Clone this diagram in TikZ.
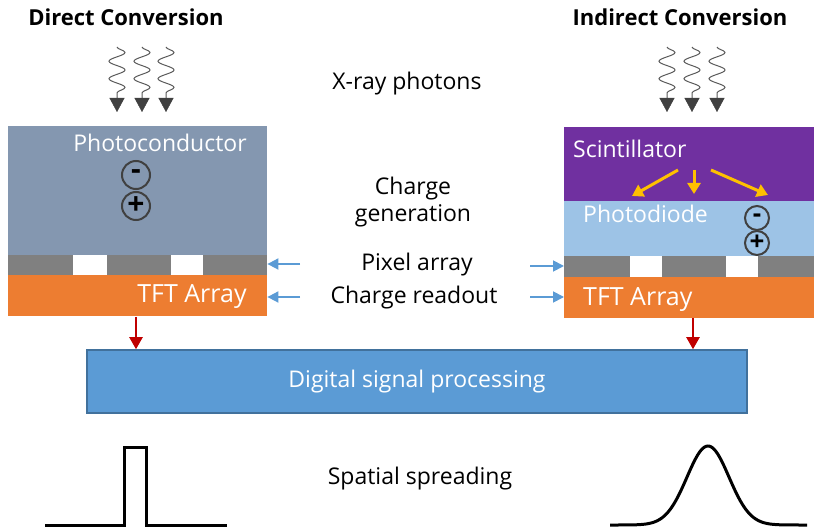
\documentclass[tikz,border=0pt]{standalone}
\usepackage{fontspec}
\setmainfont{Open Sans}
\usetikzlibrary{arrows.meta,decorations.pathmorphing}
\definecolor{pcgray}{HTML}{8497B0}
\definecolor{stripgray}{HTML}{808080}
\definecolor{tftorange}{HTML}{ED7D31}
\definecolor{scintpurple}{HTML}{7030A0}
\definecolor{diodeblue}{HTML}{9DC3E6}
\definecolor{dspblue}{HTML}{5B9BD5}
\definecolor{dspedge}{HTML}{41719C}
\definecolor{readblue}{HTML}{5B9BD5}
\definecolor{outred}{HTML}{C00000}
\definecolor{lightyellow}{HTML}{FFC000}
\definecolor{wavegray}{HTML}{595959}
\definecolor{headgray}{HTML}{404040}
\tikzset{
  layer/.style={draw=none, inner sep=0pt, anchor=north west},
  lbl/.style={inner sep=0pt, anchor=base, font=\fontsize{23}{28}\selectfont},
  title/.style={inner sep=0pt, anchor=base, font=\fontsize{22}{26}\selectfont\bfseries},
  charge/.style={circle, draw=headgray, line width=2pt, inner sep=0pt, font=\fontsize{30}{30}\selectfont\bfseries},
  photon/.style={draw=wavegray, line width=1pt, decorate,
    decoration={snake, amplitude=8pt, segment length=17.5pt, post length=1pt}},
  photonhead/.style={draw=headgray, fill=headgray, -{Triangle[length=14pt,width=15pt]}},
  readout/.style={draw=readblue, line width=1.8pt, -{Triangle[length=11pt,width=11pt]}},
  output/.style={draw=outred, line width=2.2pt, -{Triangle[length=12pt,width=13pt]}},
  light/.style={draw=lightyellow, line width=3pt, -{Triangle[length=11pt,width=13pt]}},
  profile/.style={line width=3pt, line join=miter}
}
\begin{document}
\begin{tikzpicture}[x=1pt, y=-1pt]
    \useasboundingbox (0,0) rectangle (814,529);
    % Titles
    \node[title] (dirT) at (126,26) {Direct Conversion};
    \node[title] (indT) at (680,26) {Indirect Conversion};
    % X-ray photons
    \foreach \n/\x in {1/117,2/142,3/166,4/667,5/692,6/717} {
        \coordinate (ph\n top) at (\x,47);
        \coordinate (ph\n mid) at (\x,98);
        \coordinate (ph\n tip) at (\x,112);
        \draw[photon] (ph\n top) -- (ph\n mid);
        \draw[photonhead] (ph\n mid) -- (ph\n tip);
    }
    \node[lbl] (xrayT) at (407,90) {X-ray photons};
    % Direct conversion stack
    \node[layer, fill=pcgray, minimum width=259pt, minimum height=129pt] (pcL) at (8,126) {};
    \node[layer, fill=stripgray, minimum width=259pt, minimum height=20pt] (pixL) at (8,255) {};
    \node[layer, fill=tftorange, minimum width=259pt, minimum height=41pt] (tftL) at (8,275) {};
    \fill[white] (73,255) rectangle (107,275);
    \fill[white] (171,255) rectangle (203,275);
    \node[lbl, text=white] (pcT) at (160,152) {Photoconductor};
    \node[lbl, text=white, font=\fontsize{25}{30}\selectfont] (tftLT) at (192,303) {TFT Array};
    \node[charge, minimum size=28pt] (eL) at (136,175) {-};
    \node[charge, minimum size=28pt] (hL) at (136,206) {+};
    % Indirect conversion stack
    \node[layer, fill=scintpurple, minimum width=250pt, minimum height=74pt] (scR) at (564,127) {};
    \node[layer, fill=diodeblue, minimum width=250pt, minimum height=55pt] (pdR) at (564,201) {};
    \node[layer, fill=stripgray, minimum width=250pt, minimum height=21pt] (pixR) at (564,256) {};
    \node[layer, fill=tftorange, minimum width=250pt, minimum height=41pt] (tftR) at (564,277) {};
    \fill[white] (630,256) rectangle (662,277);
    \fill[white] (726,256) rectangle (758,277);
    \node[lbl, text=white, anchor=base west] (scT) at (573,158) {Scintillator};
    \node[lbl, text=white, anchor=base west] (pdT) at (583,223) {Photodiode};
    \node[lbl, text=white, anchor=base west, font=\fontsize{25}{30}\selectfont] (tftRT) at (583,306) {TFT Array};
    \node[charge, minimum size=24pt, font=\fontsize{26}{26}\selectfont\bfseries] (eR) at (757,218) {-};
    \node[charge, minimum size=24pt, font=\fontsize{26}{26}\selectfont\bfseries] (hR) at (757,243) {+};
    % Scintillation light
    \coordinate (ly1s) at (678,170); \coordinate (ly1e) at (632,196);
    \coordinate (ly2s) at (694,170); \coordinate (ly2e) at (694,194);
    \coordinate (ly3s) at (711,170); \coordinate (ly3e) at (768,195);
    \foreach \i in {1,2,3} {\draw[light] (ly\i s) -- (ly\i e);}
    % Middle labels
    \node[lbl] (genT1) at (413,195) {Charge};
    \node[lbl] (genT2) at (413,222) {generation};
    \node[lbl] (pixT) at (417,271) {Pixel array};
    \node[lbl] (readT) at (414,304) {Charge readout};
    \coordinate (pixLs) at (300,264); \coordinate (readLs) at (300,297);
    \coordinate (pixRs) at (530,266); \coordinate (readRs) at (530,297);
    \draw[readout] (pixLs) -- (pixLs -| pixL.east);
    \draw[readout] (readLs) -- (readLs -| tftL.east);
    \draw[readout] (pixRs) -- (pixRs -| pixR.west);
    \draw[readout] (readRs) -- (readRs -| tftR.west);
    % Digital signal processing
    \node[draw=dspedge, line width=1.5pt, fill=dspblue, text=white, minimum width=660pt,
          minimum height=63pt, font=\fontsize{23}{28}\selectfont] (dsp) at (417,381.5) {Digital signal processing};
    \coordinate (outL) at (136,317); \coordinate (outR) at (693,318);
    \draw[output] (outL) -- (outL |- dsp.north);
    \draw[output] (outR) -- (outR |- dsp.north);
    % Spatial spreading
    \node[lbl] (spreadT) at (420,484) {Spatial spreading};
    \draw[profile] (45,525) -- (124,525) -- (124,447) -- (146,447) -- (146,525) -- (227,525);
    \draw[profile, line join=round] plot[domain=610:807, samples=120] (\x, {525-79*exp(-((\x-708)^2)/882)});
\end{tikzpicture}
\end{document}
